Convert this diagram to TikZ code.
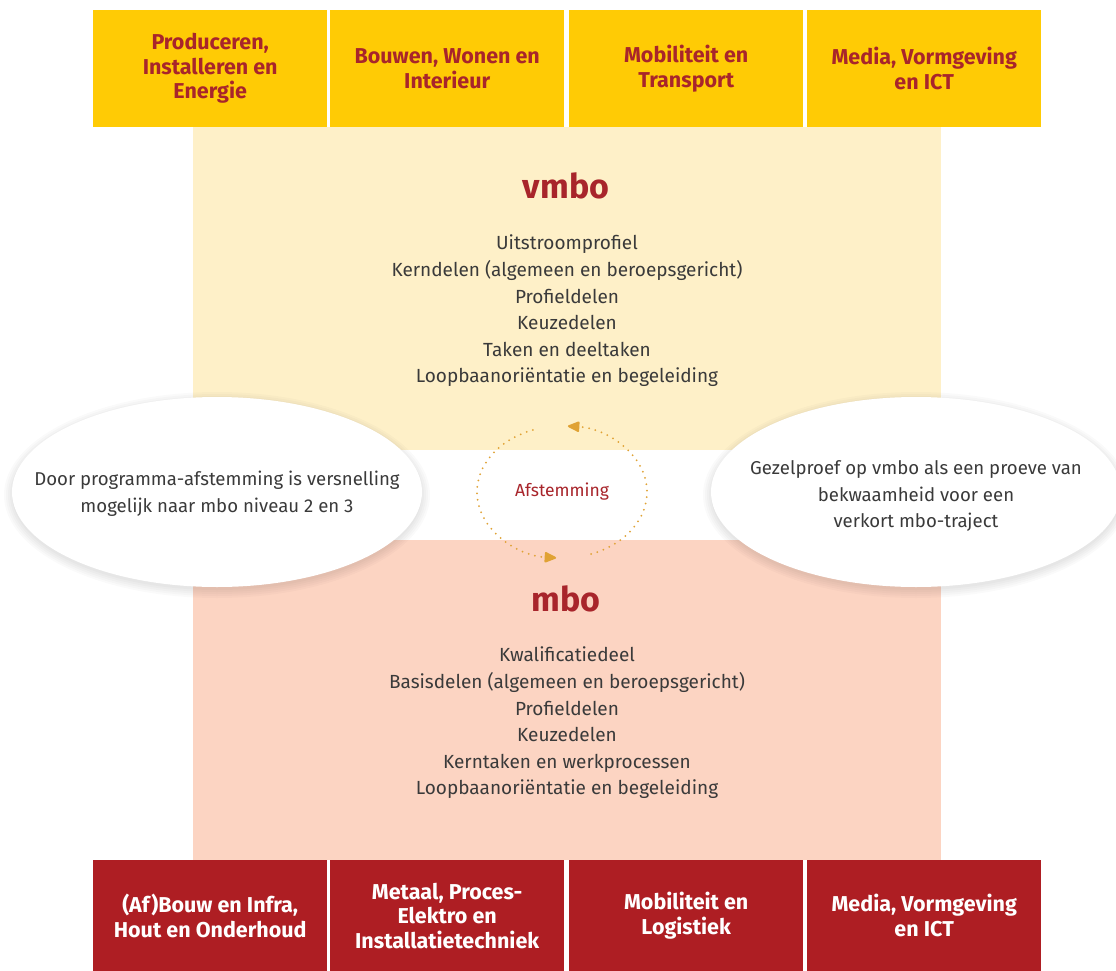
\documentclass[tikz,border=0pt]{standalone}
\usepackage{fontspec}
\setmainfont{Fira Sans}
\usetikzlibrary{arrows.meta,shapes.geometric}
\definecolor{topyel}{HTML}{FFCB05}
\definecolor{darkred}{HTML}{A8252B}
\definecolor{vmbobg}{HTML}{FEF0C8}
\definecolor{mbobg}{HTML}{FCD4C2}
\definecolor{botred}{HTML}{AE1E23}
\definecolor{dotor}{HTML}{E0A234}
\definecolor{txtgray}{HTML}{3A3A3A}
\begin{document}
\begin{tikzpicture}[x=1pt,y=-1pt,
  boxbase/.style={rectangle, inner sep=0pt, minimum width=234pt, align=center,
    font=\fontsize{21.5}{24.5}\selectfont\bfseries, anchor=north west},
  topbox/.style={boxbase, fill=topyel, text=darkred, minimum height=117pt},
  botbox/.style={boxbase, fill=botred, text=white, minimum height=111pt},
  panel/.style={rectangle, inner sep=0pt, minimum width=748pt, anchor=north west},
  heading/.style={font=\fontsize{34}{36}\selectfont\bfseries, text=darkred},
  listtxt/.style={font=\fontsize{19}{26.6}\selectfont, text=txtgray, align=center},
  bubble/.style={ellipse, fill=white, inner sep=0pt, minimum width=410pt, minimum height=190pt},
  bubbletxt/.style={font=\fontsize{18.6}{26.6}\selectfont, text=txtgray, align=center, inner sep=0pt},
  dotarc/.style={dotor, line width=2pt, line cap=round, dash pattern=on 0pt off 6.5pt,
    -{Triangle[length=13pt,width=11pt,round=false]}}
]
\useasboundingbox (0,0) rectangle (1116,971);
\fill[white] (0,0) rectangle (1116,971);

% panels
\node[panel, fill=vmbobg, minimum height=323pt] (vmbop) at (193,127) {};
\node[panel, fill=mbobg, minimum height=320pt] (mbop) at (193,540) {};

% top boxes
\node[topbox] (t1) at (93,10) {Produceren,\\Installeren en\\Energie};
\node[topbox] (t2) at (330,10) {Bouwen, Wonen en\\Interieur};
\node[topbox] (t3) at (569,10) {Mobiliteit en\\Transport};
\node[topbox] (t4) at (807,10) {Media, Vormgeving\\en ICT};

% bottom boxes
\node[botbox] (b1) at (93,860) {(Af)Bouw en Infra,\\Hout en Onderhoud};
\node[botbox] (b2) at (330,860) {Metaal, Proces-\\Elektro en\\Installatietechniek};
\node[botbox] (b3) at (569,860) {Mobiliteit en\\Logistiek};
\node[botbox] (b4) at (807,860) {Media, Vormgeving\\en ICT};

% headings and lists
\node[heading] (vh) at (566,186) {vmbo};
\node[listtxt] (vl) at (567,311) {Uitstroomprofiel\\Kerndelen (algemeen en beroepsgericht)\\Profieldelen\\Keuzedelen\\Taken en deeltaken\\Loopbaanoriëntatie en begeleiding};
\node[heading] (mh) at (566,599) {mbo};
\node[listtxt] (ml) at (567,723) {Kwalificatiedeel\\Basisdelen (algemeen en beroepsgericht)\\Profieldelen\\Keuzedelen\\Kerntaken en werkprocessen\\Loopbaanoriëntatie en begeleiding};

% afstemming cycle
\node[font=\fontsize{17.5}{20}\selectfont, text=darkred] (af) at (562,492) {Afstemming};
\draw[dotarc] (af.center) ++(-110:85 and 66) arc[start angle=-110, end angle=-266, x radius=85, y radius=66];
\draw[dotarc] (af.center) ++(70:85 and 66) arc[start angle=70, end angle=-86, x radius=85, y radius=66];

% shadows of bubbles
\foreach \c in {(217,495),(916,495)}{
  \foreach \i in {0,2,...,8}{
    \fill[black, opacity=0.02] \c ellipse[x radius=205+\i, y radius=95+\i];
  }
}

% bubbles
\node[bubble] (lbs) at (217,492) {};
\node[bubble] (rbs) at (916,492) {};
\node[bubbletxt] (lb) at ([yshift=-2pt]lbs.center) {Door programma-afstemming is versnelling\\mogelijk naar mbo niveau 2 en 3};
\node[bubbletxt] (rb) at ([yshift=-4pt]rbs.center) {Gezelproef op vmbo als een proeve van\\bekwaamheid voor een\\verkort mbo-traject};
\end{tikzpicture}
\end{document}
